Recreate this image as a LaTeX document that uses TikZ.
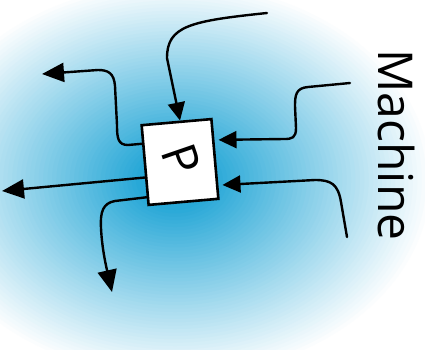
\documentclass[tikz,border=0pt]{standalone}
\usepackage{fontspec}
\setmainfont{Open Sans}
\usetikzlibrary{arrows.meta,calc}
\definecolor{skyc}{RGB}{40,168,215}
\tikzset{
  wire/.style={line width=2.4pt, line join=round, line cap=round, -{Triangle[length=18pt,width=17pt]}},
  bigwire/.style={wire, -{Triangle[length=22pt,width=19pt]}},
  procbox/.style={draw, line width=2.6pt, fill=white, rectangle, minimum width=70pt, minimum height=80pt, rotate=5, inner sep=0pt},
  hand/.style={inner sep=0pt, font=\fontsize{48}{48}\selectfont}
}
\begin{document}
\begin{tikzpicture}[x=1pt,y=-1pt]
\useasboundingbox (0,0) rectangle (425,349);
\fill[white] (0,0) rectangle (425,349);
\foreach \i [evaluate=\i as \r using 1-\i*0.017, evaluate=\i as \c using int(2*\i)] in {0,...,50}
  \fill[skyc!\c!white] (175,180) ellipse [x radius=260*\r, y radius=200*\r];
\node[procbox] (P) at (180,162) {};
\node[hand, rotate=-71] (Pl) at (181,160) {P};
\node[hand, rotate=-90] (M) at (396,145) {Machine};
% free ends
\coordinate (s1) at (267,13);
\coordinate (s2) at (350,83);
\coordinate (s3) at (347,237);
\coordinate (e4) at (42,74);
\coordinate (e5) at (2,191);
\coordinate (e6) at (112,292);
% incoming
\draw[wire] (s1) .. controls (190,21) and (167,26) .. (167,58) -- ($(P.north west)!0.55!(P.north east)$);
\draw[wire, shorten >=4pt] (s2) -- (308,87) .. controls (296,88) and (295,95) .. (295,106) -- (296,128) .. controls (296,138) and (292,139) .. (284,139) -- ($(P.north east)!0.27!(P.south east)$);
\draw[wire, shorten >=4pt] (s3) -- (341,202) .. controls (338,184) and (331,180) .. (315,180) -- ($(P.north east)!0.82!(P.south east)$);
% outgoing
\draw[bigwire] ($(P.north west)!0.24!(P.south west)$) -- (128,145) .. controls (118,145) and (117,138) .. (117,125) -- (115,86) .. controls (114,73) and (108,70) .. (98,70) -- (e4);
\draw[bigwire] ($(P.north west)!0.65!(P.south west)$) -- (e5);
\draw[bigwire] ($(P.north west)!0.89!(P.south west)$) -- (115,201) .. controls (103,203) and (100,212) .. (101,228) .. controls (102,250) and (107,270) .. (e6);
\end{tikzpicture}
\end{document}
